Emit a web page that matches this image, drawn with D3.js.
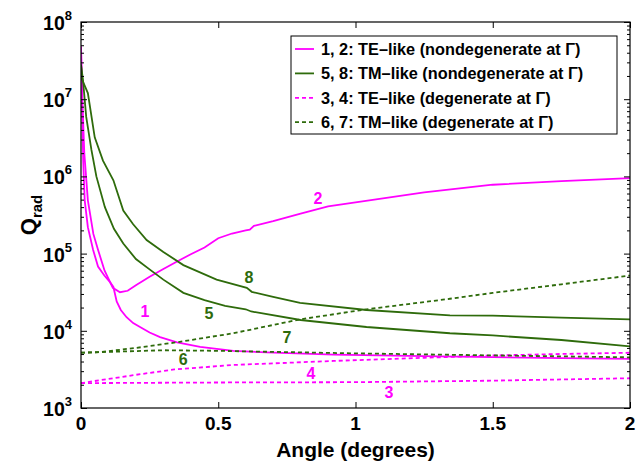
<!DOCTYPE html>
<html><head><meta charset="utf-8">
<script src="https://cdn.jsdelivr.net/npm/d3@7"></script>
<style>body{margin:0;background:#fff}svg{display:block}text{font-family:"Liberation Sans",Arial,sans-serif;font-weight:bold}</style>
</head><body><svg id="c" width="636" height="466"></svg>
<script>
// ---- data (angle in degrees, Q_rad) ----
const c1x = [0,0.004,0.008,0.0135,0.025,0.044,0.062,0.085,0.105,0.118,0.13,0.145,0.166,0.19,0.215,0.25,0.288,0.35,0.434,0.555,0.676,0.92,1.25,1.5,1.75,2.0];
const c1q = [4.8e7,7.9e6,1.6e6,4.9e5,2.2e5,1.12e5,6.8e4,5.2e4,4.3e4,3.7e4,2.4e4,1.86e4,1.5e4,1.26e4,1.12e4,9500,8300,7100,6200,5500,5250,4900,4700,4570,4420,4320];
const c2x = [0,0.005,0.012,0.025,0.045,0.062,0.086,0.116,0.142,0.17,0.2,0.25,0.3,0.35,0.4,0.45,0.5,0.55,0.6,0.615,0.63,0.7,0.8,0.9,1.0,1.25,1.5,1.75,2.0];
const c2q = [4.8e7,1.0e7,2.0e6,4.9e5,1.8e5,1.12e5,6.0e4,3.6e4,3.16e4,3.3e4,3.9e4,5.0e4,6.3e4,7.9e4,9.8e4,1.2e5,1.58e5,1.82e5,2.0e5,2.04e5,2.29e5,2.63e5,3.3e5,4.1e5,4.6e5,6.2e5,7.8e5,8.7e5,9.5e5];
const c3x = [0,0.5,1,1.5,2];
const c3q = [2100,2140,2160,2260,2430];
const c4x = [0,0.069,0.2,0.34,0.555,0.92,1.25,1.5,1.75,2];
const c4q = [2100,2290,2690,3160,3610,4070,4470,4790,5010,5200];
const c5x = [0,0.007,0.019,0.038,0.056,0.087,0.12,0.154,0.2,0.251,0.3,0.373,0.45,0.525,0.6,0.62,0.8,1.04,1.344,1.5,1.75,2.0];
const c5q = [2.8e7,1.8e7,5.9e6,2.2e6,1.0e6,4.0e5,2.1e5,1.35e5,8.5e4,6.2e4,4.6e4,3.1e4,2.5e4,2.1e4,1.9e4,1.78e4,1.38e4,1.12e4,9300,8700,7600,6300];
const c6x = [0,0.3,0.5,1,1.5,2];
const c6q = [5200,5600,5500,5100,4800,4530];
const c7x = [0,0.069,0.2,0.349,0.555,0.8,1.04,1.344,1.5,1.75,2.0];
const c7q = [5200,5300,6000,7100,9300,1.41e4,1.9e4,2.6e4,3.1e4,4.0e4,5.2e4];
const c8x = [0,0.004,0.025,0.05,0.08,0.118,0.154,0.19,0.239,0.3,0.373,0.494,0.604,0.622,0.7,0.798,1.04,1.344,1.5,1.75,2.0];
const c8q = [2.8e7,1.8e7,1.2e7,3.2e6,1.6e6,8.9e5,3.6e5,2.4e5,1.5e5,1.05e5,7.1e4,4.6e4,3.6e4,3.2e4,2.75e4,2.3e4,1.86e4,1.58e4,1.57e4,1.48e4,1.41e4];
const labelNames = ["1","2","3","4","5","6","7","8"];
const labelX = [0.233,0.863,1.122,0.838,0.466,0.372,0.75,0.612];
const labelQ = [1.8e4,5.25e5,1610,2840,1.7e4,4310,8300,5.0e4];
const xTicks = [0,0.5,1,1.5,2];
const xTickLabels = ["0","0.5","1","1.5","2"];
const yExps = [3,4,5,6,7,8];
const legendLabels = ["1, 2: TE\u2013like (nondegenerate at \u0393)","5, 8: TM\u2013like (nondegenerate at \u0393)","3, 4: TE\u2013like (degenerate at \u0393)","6, 7: TM\u2013like (degenerate at \u0393)"];

const MAG = "#ff00ff", GRN = "#2e6b0b";
const series = [
  {x:c1x,q:c1q,col:MAG,dash:null},{x:c2x,q:c2q,col:MAG,dash:null},
  {x:c3x,q:c3q,col:MAG,dash:"4,3"},{x:c4x,q:c4q,col:MAG,dash:"4,3"},
  {x:c5x,q:c5q,col:GRN,dash:null},{x:c8x,q:c8q,col:GRN,dash:null},
  {x:c6x,q:c6q,col:GRN,dash:"4,3"},{x:c7x,q:c7q,col:GRN,dash:"4,3"}
];
const labelCols = [MAG,MAG,MAG,MAG,GRN,GRN,GRN,GRN];

const L=81,R=630,T=22,B=408;
const svg = d3.select("#c");
const x = d3.scaleLinear().domain([0,2]).range([L,R]);
const y = d3.scaleLog().domain([1e3,1e8]).range([B,T]);

const minor=[];
yExps.slice(0,-1).forEach(e=>{for(let m=2;m<=9;m++) minor.push(m*Math.pow(10,e));});
const majors = yExps.map(e=>Math.pow(10,e));

const g = svg.append("g");
const line = d3.line().x(d=>x(d[0])).y(d=>y(d[1]));
svg.append("clipPath").attr("id","cp").append("rect").attr("x",L).attr("y",T).attr("width",R-L).attr("height",B-T);
series.forEach(s=>{
  g.append("path").datum(s.x.map((v,i)=>[v,s.q[i]]))
   .attr("d",line).attr("fill","none").attr("stroke",s.col).attr("stroke-width",1.8)
   .attr("stroke-dasharray",s.dash).attr("clip-path","url(#cp)");
});

const axL = d3.axisLeft(y).tickValues(majors).tickSize(-6).tickFormat("");
const axLm = d3.axisLeft(y).tickValues(minor).tickSize(-3).tickFormat("");
const axR = d3.axisRight(y).tickValues(majors).tickSize(-6).tickFormat("");
const axRm = d3.axisRight(y).tickValues(minor).tickSize(-3).tickFormat("");
const axB = d3.axisBottom(x).tickValues(xTicks).tickSize(-6).tickFormat("");
const axT = d3.axisTop(x).tickValues(xTicks).tickSize(-6).tickFormat("");
[[axL,`translate(${L},0)`],[axLm,`translate(${L},0)`],[axR,`translate(${R},0)`],[axRm,`translate(${R},0)`],[axB,`translate(0,${B})`],[axT,`translate(0,${T})`]].forEach(([a,t])=>{
  const gg=svg.append("g").attr("transform",t).call(a);
  gg.select(".domain").remove();
  gg.selectAll("line").attr("stroke","#000").attr("stroke-width",1);
});
svg.append("rect").attr("x",L).attr("y",T).attr("width",R-L).attr("height",B-T).attr("fill","none").attr("stroke","#000").attr("stroke-width",1.2);

xTicks.forEach((v,i)=>{
  svg.append("text").attr("x",x(v)).attr("y",B+22).attr("text-anchor","middle").attr("font-size",19).text(xTickLabels[i]);
});
yExps.forEach(e=>{
  const t=svg.append("text").attr("x",L-9).attr("y",y(Math.pow(10,e))+8).attr("text-anchor","end").attr("font-size",19.5);
  t.append("tspan").text("10");
  t.append("tspan").attr("dy",-10).attr("font-size",13).text(e);
});
svg.append("text").attr("x",(L+R)/2).attr("y",457).attr("text-anchor","middle").attr("font-size",21).text("Angle (degrees)");
const yl = svg.append("text").attr("transform",`translate(36,${(T+B)/2}) rotate(-90)`).attr("text-anchor","middle").attr("font-size",22);
yl.append("tspan").text("Q");
yl.append("tspan").attr("dy",6).attr("font-size",15).text("rad");

labelNames.forEach((n,i)=>{
  svg.append("text").attr("x",x(labelX[i])).attr("y",y(labelQ[i])).attr("dy","0.36em").attr("text-anchor","middle").attr("font-size",16).attr("fill",labelCols[i]).text(n);
});

const lg = svg.append("g");
lg.append("rect").attr("x",291).attr("y",36).attr("width",326).attr("height",98).attr("fill","#fff").attr("stroke","#000").attr("stroke-width",1);
const legCols=[MAG,GRN,MAG,GRN], legDash=[null,null,"4,3","4,3"];
legendLabels.forEach((t,i)=>{
  const yy=49+i*24.4;
  lg.append("line").attr("x1",295).attr("x2",314).attr("y1",yy).attr("y2",yy).attr("stroke",legCols[i]).attr("stroke-width",1.8).attr("stroke-dasharray",legDash[i]);
  lg.append("text").attr("x",321).attr("y",yy+6).attr("font-size",16.3).text(t);
});
</script></body></html>
